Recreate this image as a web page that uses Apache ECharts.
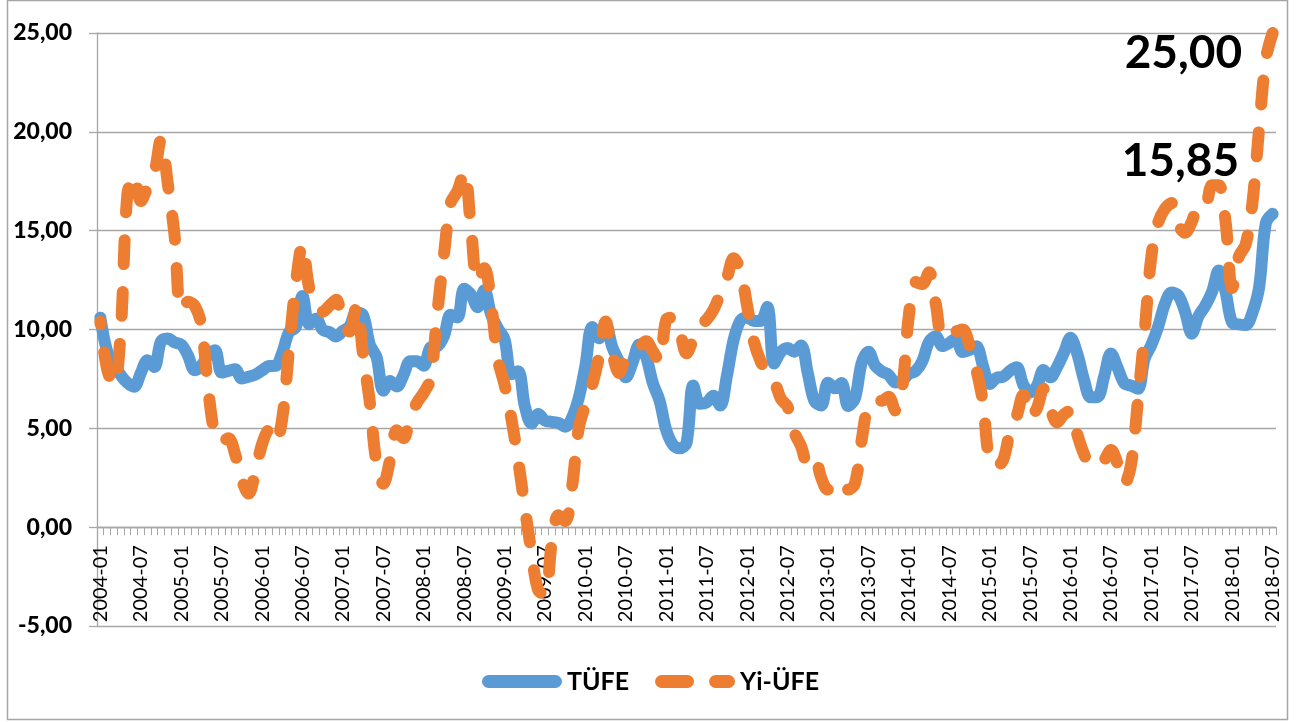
<!DOCTYPE html>
<html>
<head>
<meta charset="utf-8">
<script src="https://cdn.jsdelivr.net/npm/echarts@6/dist/echarts.min.js"></script>
<style>
  html, body { margin: 0; padding: 0; background: #fff; }
  #chart { width: 1301px; height: 722px; }
</style>
</head>
<body>
<div id="chart"></div>
<script>
// aylar: 2004-01 ... 2018-07
const months = []
for (let y = 2004; y <= 2018; y++) {
  for (let m = 1; m <= 12; m++) {
    if (y === 2018 && m > 7) break
    months.push(y + '-' + (m < 10 ? '0' + m : m))
  }
}

// TÜFE yıllık değişim (%)
const tufe = [
  10.6, 8.9, 8.2, 7.7, 7.3, 7.1, 7.8, 8.45, 8.1, 9.4, 9.55, 9.35,
  9.24, 8.69, 7.94, 8.18, 8.70, 8.95, 7.82, 7.91, 7.99, 7.52, 7.61, 7.72,
  7.93, 8.15, 8.16, 8.83, 9.86, 10.12, 11.69, 10.26, 10.55, 9.98, 9.86, 9.65,
  9.93, 10.16, 10.86, 10.72, 9.23, 8.60, 6.90, 7.39, 7.12, 7.70, 8.40, 8.39,
  8.17, 9.10, 9.15, 9.66, 10.74, 10.61, 12.06, 11.77, 11.13, 11.99, 10.76, 10.06,
  9.50, 7.73, 7.89, 6.13, 5.24, 5.73, 5.39, 5.33, 5.27, 5.08, 5.53, 6.53,
  8.19, 10.13, 9.56, 10.19, 9.10, 8.37, 7.58, 8.33, 9.24, 8.62, 7.29, 6.40,
  4.90, 4.16, 3.99, 4.26, 7.17, 6.24, 6.31, 6.65, 6.15, 7.66, 9.48, 10.45,
  10.61, 10.43, 10.43, 11.14, 8.28, 8.87, 9.07, 8.88, 9.19, 7.80, 6.37, 6.16,
  7.31, 7.03, 7.29, 6.13, 6.51, 8.30, 8.88, 8.17, 7.88, 7.71, 7.32, 7.40,
  7.75, 7.89, 8.39, 9.38, 9.66, 9.16, 9.32, 9.54, 8.86, 8.96, 9.15, 8.17,
  7.24, 7.55, 7.61, 7.91, 8.09, 7.20, 6.81, 7.14, 7.95, 7.58, 8.10, 8.81,
  9.58, 8.78, 7.46, 6.57, 6.58, 7.64, 8.79, 8.05, 7.28, 7.16, 7.00, 8.53,
  9.22, 10.13, 11.29, 11.87, 11.72, 10.90, 9.79, 10.68, 11.20, 11.90, 12.98, 11.92,
  10.35, 10.26, 10.23, 10.85, 12.15, 15.39, 15.85
]

// Yİ-ÜFE yıllık değişim (%)
const yiufe = [
  10.4, 8.0, 7.2, 9.8, 16.8, 17.8, 16.5, 17.2, 17.9, 19.6, 17.4, 14.8,
  11.0, 11.4, 11.2, 10.2, 7.0, 4.7, 4.3, 4.5, 3.7, 2.4, 1.7, 2.8,
  4.2, 4.9, 4.3, 5.5, 9.0, 12.3, 14.3, 12.1, 11.5, 10.9, 11.2, 11.5,
  10.3, 9.9, 11.2, 8.7, 6.3, 3.2, 2.2, 3.4, 4.9, 4.5, 5.6, 6.3,
  6.8, 7.5, 10.8, 13.8, 16.4, 17.0, 18.0, 15.2, 12.4, 13.1, 11.3, 8.5,
  7.2, 5.5, 3.4, 1.0, -1.3, -3.2, -3.4, -0.8, 0.6, 0.3, 2.0, 5.0,
  6.2, 7.2, 8.6, 10.4, 8.8, 7.8, 8.6, 8.8, 9.1, 9.4, 8.9, 8.4,
  10.5, 10.6, 9.9, 8.8, 9.5, 10.2, 10.5, 11.0, 11.8, 12.6, 13.6, 13.0,
  11.2, 9.4, 8.4, 7.8, 7.4, 6.5, 6.1, 4.8, 4.1, 3.2, 3.5, 2.5,
  1.9, 1.9, 2.3, 1.9, 2.2, 4.4, 6.2, 6.4, 6.4, 6.6, 5.9, 7.0,
  10.7, 12.4, 12.3, 12.9, 11.3, 9.6, 9.8, 9.9, 10.0, 9.2, 8.0, 6.3,
  3.3, 3.1, 3.4, 4.8, 5.6, 6.7, 5.6, 6.0, 7.0, 6.0, 5.3, 5.7,
  5.9, 4.7, 3.7, 3.1, 3.2, 3.4, 3.9, 3.2, 2.2, 3.2, 6.4, 9.9,
  13.7, 15.4, 16.1, 16.4, 15.3, 14.9, 15.45, 16.3, 16.3, 17.3, 17.3, 15.5,
  12.1, 13.7, 14.3, 16.4, 20.2, 23.7, 25.0
]

const yTicks = { min: -5, max: 25, step: 5 }

const fmt = v => Number(v).toFixed(2).replace('.', ',')
const gray = '#a6a6a6'
const blue = '#5b9bd5'
const orange = '#ed7d31'
const font = 'Lato, "Open Sans", sans-serif'
const last = months.length - 1

// plot alanı
const gridTop = 33
const gridBottom = 96
const plotH = 722 - gridTop - gridBottom
// kategori ekseni 0 çizgisinde dursun
const zeroOffset = plotH * (0 - yTicks.min) / (yTicks.max - yTicks.min)

// lejant simgeleri: düz çizgi ve kesikli çizgi
const iconSolid = 'path://M6.5,0H73.5A6.5,6.5,0,0,1,73.5,13H6.5A6.5,6.5,0,0,1,6.5,0Z'
const iconDashed = 'path://M6.5,0H32.5A6.5,6.5,0,0,1,32.5,13H6.5A6.5,6.5,0,0,1,6.5,0Z' +
  'M60.5,0H73.5A6.5,6.5,0,0,1,73.5,13H60.5A6.5,6.5,0,0,1,60.5,0Z'

const chart = echarts.init(document.getElementById('chart'), null, { renderer: 'canvas' })

const endLabel = (offset) => ({
  show: true,
  position: 'left',
  distance: 0,
  offset: offset,
  formatter: p => fmt(p.value),
  fontFamily: font,
  fontWeight: 'bold',
  fontSize: 46,
  color: '#000'
})

chart.setOption({
  animation: false,
  backgroundColor: '#fff',
  graphic: [{
    type: 'rect',
    shape: { x: 7.5, y: 0.5, width: 1280, height: 719 },
    style: { fill: 'none', stroke: gray, lineWidth: 1.5 },
    silent: true
  }],
  grid: { left: 97, right: 25, top: gridTop, bottom: gridBottom, containLabel: false },
  legend: {
    left: 'center',
    top: 664,
    itemWidth: 80,
    itemHeight: 13,
    itemGap: 26,
    textStyle: { fontFamily: font, fontWeight: 'bold', fontSize: 25, color: '#000' },
    data: [
      { name: 'TÜFE', icon: iconSolid, itemStyle: { color: blue } },
      { name: 'Yi-ÜFE', icon: iconDashed, itemStyle: { color: orange } }
    ]
  },
  xAxis: {
    type: 'category',
    data: months,
    boundaryGap: true,
    offset: -zeroOffset,
    axisLine: { onZero: false, lineStyle: { color: gray, width: 1.3 } },
    axisTick: { show: true, interval: 0, length: 8, lineStyle: { color: gray, width: 1 } },
    axisLabel: {
      interval: 5,
      rotate: 90,
      margin: 18,
      fontFamily: font,
      fontSize: 20,
      color: '#000'
    },
    splitLine: { show: false }
  },
  yAxis: {
    type: 'value',
    min: yTicks.min,
    max: yTicks.max,
    interval: yTicks.step,
    axisLine: { show: true, lineStyle: { color: gray, width: 1.3 } },
    axisTick: { show: true, length: 8, lineStyle: { color: gray, width: 1.3 } },
    axisLabel: {
      formatter: fmt,
      margin: 25,
      fontFamily: font,
      fontWeight: 900,
      fontSize: 23,
      color: '#000'
    },
    splitLine: { lineStyle: { color: gray, width: 1.3 } }
  },
  series: [
    {
      name: 'TÜFE',
      type: 'line',
      data: tufe,
      smooth: 0.35,
      symbol: 'none',
      color: blue,
      lineStyle: { width: 12, color: blue, cap: 'round', join: 'round' },
      markPoint: {
        symbol: 'circle',
        symbolSize: 1,
        itemStyle: { color: 'rgba(0,0,0,0)' },
        label: endLabel([-33, -53]),
        data: [{ coord: [months[last], tufe[last]], value: tufe[last] }]
      }
    },
    {
      name: 'Yi-ÜFE',
      type: 'line',
      data: yiufe,
      smooth: 0.35,
      symbol: 'none',
      color: orange,
      lineStyle: { width: 12, color: orange, type: [24, 28], dashOffset: 21, cap: 'round', join: 'round' },
      markPoint: {
        symbol: 'circle',
        symbolSize: 1,
        itemStyle: { color: 'rgba(0,0,0,0)' },
        label: endLabel([-30, 20]),
        data: [{ coord: [months[last], yiufe[last]], value: yiufe[last] }]
      }
    }
  ]
})
</script>
</body>
</html>
